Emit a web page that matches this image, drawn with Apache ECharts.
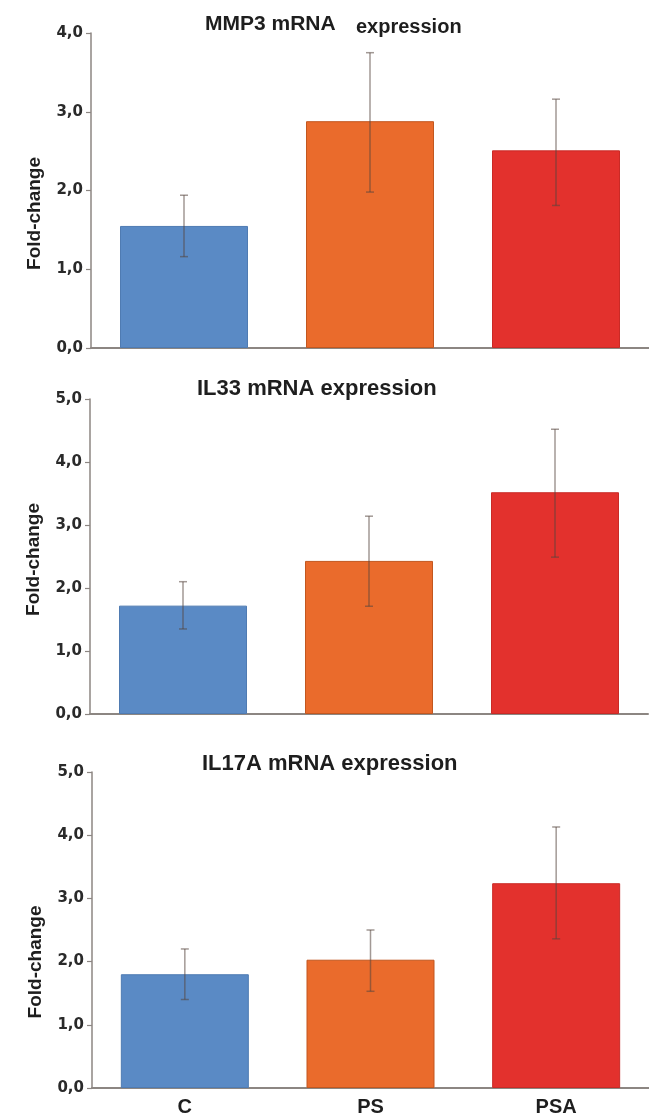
<!DOCTYPE html>
<html>
<head>
<meta charset="utf-8">
<script src="https://cdn.jsdelivr.net/npm/echarts@6/dist/echarts.min.js"></script>
<style>
html,body{margin:0;padding:0;background:#fff;}
#chart{width:649px;height:1117px;}
</style>
</head>
<body>
<div id="chart"></div>
<script>
// ---- data ----
const categories = ['C', 'PS', 'PSA'];
const mmp3Mean = [1.55, 2.88, 2.51];
const mmp3Low  = [1.16, 1.98, 1.81];
const mmp3High = [1.94, 3.75, 3.16];
const il33Mean = [1.72, 2.43, 3.52];
const il33Low  = [1.35, 1.71, 2.49];
const il33High = [2.10, 3.14, 4.52];
const il17Mean = [1.80, 2.03, 3.24];
const il17Low  = [1.40, 1.53, 2.36];
const il17High = [2.20, 2.50, 4.13];
const yMax = [4, 5, 5];
const titles = ['MMP3 mRNA', 'IL33 mRNA expression', 'IL17A mRNA expression'];
const yName = 'Fold-change';

const barColors = ['#5a8ac5', '#ea6b2c', '#e3312d'];
const barBorders = ['#4f7bb2', '#c2571f', '#c92a26'];
const axisColor = '#8c8682';
const labelFont = '"DejaVu Sans", sans-serif';
const textFont = '"Liberation Sans", Arial, sans-serif';

const grids = [
  {left: 91, right: -1, top: 33, height: 315},
  {left: 90, right: 1, top: 399, height: 315},
  {left: 92, right: -2, top: 772, height: 316}
];
const nameShift = [46, 6, 64];

const means = [mmp3Mean, il33Mean, il17Mean];
const lows = [mmp3Low, il33Low, il17Low];
const highs = [mmp3High, il33High, il17High];

const xAxes = [], yAxes = [], series = [];
for (let i = 0; i < 3; i++) {
  xAxes.push({
    type: 'category', gridIndex: i, data: categories,
    axisLine: {show: true, lineStyle: {color: axisColor, width: 2}},
    axisTick: {show: false},
    axisLabel: {show: i === 2, fontSize: 20, fontWeight: 'bold', color: '#1e1e1e', fontFamily: textFont, margin: 9},
    splitLine: {show: false}
  });
  yAxes.push({
    type: 'value', gridIndex: i, min: 0, max: yMax[i], interval: 1,
    name: yName, nameLocation: 'middle', nameGap: 47, nameRotate: 90,
    nameTextStyle: {fontSize: 19, fontWeight: 'bold', color: '#1e1e1e', fontFamily: textFont,
      padding: [0, nameShift[i], 0, 0]},
    axisLine: {show: true, lineStyle: {color: axisColor, width: 1.5}},
    axisTick: {show: true, length: 5, lineStyle: {color: axisColor, width: 1.2}},
    axisLabel: {fontSize: 15, fontWeight: 'bold', color: '#2a2a2a', fontFamily: labelFont, margin: 8,
      formatter: v => v.toFixed(1).replace('.', ',')},
    splitLine: {show: false}
  });
  series.push({
    type: 'bar', xAxisIndex: i, yAxisIndex: i, barWidth: 128,
    data: means[i].map((v, k) => ({value: v, itemStyle: {color: barColors[k], borderColor: barBorders[k], borderWidth: 1}})),
    z: 2
  });
  series.push({
    type: 'custom', xAxisIndex: i, yAxisIndex: i, z: 5,
    data: categories.map((c, k) => [k, lows[i][k], highs[i][k]]),
    renderItem: function (params, api) {
      const x = api.value(0);
      const lo = api.coord([x, api.value(1)]);
      const hi = api.coord([x, api.value(2)]);
      const cw = 4;
      const st = {stroke: 'rgba(85,70,62,0.55)', lineWidth: 1.5};
      return {type: 'group', children: [
        {type: 'line', shape: {x1: hi[0], y1: hi[1], x2: lo[0], y2: lo[1]}, style: st},
        {type: 'line', shape: {x1: hi[0] - cw, y1: hi[1], x2: hi[0] + cw, y2: hi[1]}, style: st},
        {type: 'line', shape: {x1: lo[0] - cw, y1: lo[1], x2: lo[0] + cw, y2: lo[1]}, style: st}
      ]};
    }
  });
}

const titleStyle = {fontWeight: 'bold', color: '#1e1e1e', fontFamily: textFont};
const option = {
  backgroundColor: '#fff',
  animation: false,
  title: [
    {text: titles[0], left: 205, top: 14, padding: 0, textStyle: Object.assign({fontSize: 21}, titleStyle)},
    {text: 'expression', left: 356, top: 17, padding: 0, textStyle: Object.assign({fontSize: 20}, titleStyle)},
    {text: titles[1], left: 197, top: 378, padding: 0, textStyle: Object.assign({fontSize: 22}, titleStyle)},
    {text: titles[2], left: 202, top: 753, padding: 0, textStyle: Object.assign({fontSize: 22}, titleStyle)}
  ],
  grid: grids,
  xAxis: xAxes,
  yAxis: yAxes,
  series: series
};
const chart = echarts.init(document.getElementById('chart'), null, {renderer: 'canvas'});
chart.setOption(option);
</script>
</body>
</html>
